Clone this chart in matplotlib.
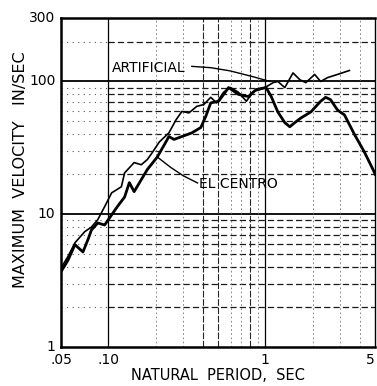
import numpy as np
import matplotlib
matplotlib.use("Agg")
import matplotlib.pyplot as plt

# spectrum values (period sec, velocity in/sec)
art_period = [0.050, 0.0553, 0.0613, 0.0708, 0.078, 0.0856, 0.0947, 0.105, 0.121, 0.127,
              0.146, 0.162, 0.177, 0.190, 0.211, 0.243, 0.270, 0.294, 0.326, 0.366,
              0.405, 0.449, 0.489, 0.542, 0.600, 0.673, 0.757, 0.838, 0.927, 1.01,
              1.12, 1.20, 1.33, 1.50, 1.66, 1.81, 2.06, 2.25, 2.49, 2.88, 3.43]
art_vel = [3.95, 4.8, 6.1, 7.4, 8.0, 9.1, 11.4, 14.5, 16.1, 20.5,
           24.5, 23.6, 25.8, 29, 35, 41, 51.5, 59.5, 58, 65,
           67, 76, 69, 83, 90, 83, 71, 84, 87, 91,
           98, 100, 90, 116, 103, 98, 113, 100, 107, 113, 121]

elc_period = [0.0507, 0.0553, 0.0613, 0.0689, 0.074, 0.078, 0.0856, 0.0947, 0.105, 0.114,
              0.127, 0.136, 0.146, 0.162, 0.177, 0.205, 0.226, 0.243, 0.262, 0.294,
              0.340, 0.388, 0.417, 0.449, 0.504, 0.583, 0.673, 0.78, 0.875, 1.01,
              1.09, 1.20, 1.33, 1.43, 1.54, 1.68, 1.95, 2.25, 2.42, 2.60, 2.88,
              3.19, 3.69, 4.26, 4.86, 5.0]
elc_vel = [3.8, 4.5, 5.9, 5.2, 6.4, 7.6, 8.6, 8.3, 9.9, 11.4,
           13.5, 17.3, 14.8, 18.2, 21.7, 27, 33, 38.5, 36.6, 38.5,
           41, 45, 54.5, 69, 71, 90, 80, 77, 87, 90,
           77, 59, 49, 45.6, 49, 53, 59, 71, 76, 73, 61,
           56, 40, 29.6, 21.6, 20]

xticks = [0.05, 0.1, 1, 5]
xtick_labels = [".05", ".10", "1", "5"]
yticks = [1, 10, 100, 300]
ytick_labels = ["1", "10", "100", "300"]

fig = plt.figure(figsize=(3.77, 3.86), dpi=100)
ax = fig.add_axes([0.162, 0.101, 0.833, 0.852])
ax.set_xscale("log")
ax.set_yscale("log")
ax.set_xlim(0.05, 5)
ax.set_ylim(1, 300)

# ruled paper: horizontal lines
for v in [2, 3, 4, 5, 6, 7, 8, 9, 20, 30, 40, 50, 60, 70, 80, 90, 200]:
    ax.axhline(v, xmin=0, xmax=0.1505, color="0.35", lw=0.8, ls=(0, (1, 4)))
    ax.axhline(v, xmin=0.1505, xmax=1, color="0.1", lw=0.9, ls=(0, (5, 2.5)))
for v in [10, 100]:
    ax.axhline(v, color="black", lw=1.3)

# vertical lines
for v in [0.2, 0.3, 0.6, 0.7, 0.9, 2, 3, 4]:
    ax.axvline(v, color="0.45", lw=0.6, ls=(0, (2, 3)))
for v in [0.4, 0.5, 0.8]:
    ax.axvline(v, color="0.15", lw=0.8, ls=(0, (6, 1.5)))
for v in [0.1, 1]:
    ax.axvline(v, color="black", lw=0.9)

ax.plot(art_period, art_vel, color="black", lw=1.2)
ax.plot(elc_period, elc_vel, color="black", lw=2.0)

# labels with leader lines
ax.text(0.106, 127, "ARTIFICIAL", fontsize=10, va="center", ha="left")
ax.plot([0.34, 0.45, 0.6, 0.85, 1.07], [130, 127, 120, 108, 100], color="black", lw=1.0)
ax.text(0.38, 17.0, "EL CENTRO", fontsize=10, va="center", ha="left")
ax.plot([0.205, 0.25, 0.30, 0.37], [27, 22.5, 19.5, 17.2], color="black", lw=1.0)

ax.set_xticks(xticks)
ax.set_xticklabels(xtick_labels)
ax.set_yticks(yticks)
ax.set_yticklabels(ytick_labels)
ax.xaxis.set_minor_locator(matplotlib.ticker.NullLocator())
ax.yaxis.set_minor_locator(matplotlib.ticker.NullLocator())
ax.tick_params(axis="both", length=0, labelsize=10, pad=4)
for lab in ax.get_yticklabels():
    lab.set_verticalalignment("center")
ax.get_xticklabels()[-1].set_horizontalalignment("right")

for s in ["left", "bottom", "top"]:
    ax.spines[s].set_linewidth(1.8)
ax.spines["right"].set_linewidth(1.0)

ax.set_xlabel("NATURAL  PERIOD,  SEC", fontsize=10.5, labelpad=1)
ax.set_ylabel("MAXIMUM  VELOCITY   IN/SEC", fontsize=11.5, labelpad=2)
ax.yaxis.set_label_coords(-0.105, 0.54)

fig.savefig("out.png", dpi=100)
